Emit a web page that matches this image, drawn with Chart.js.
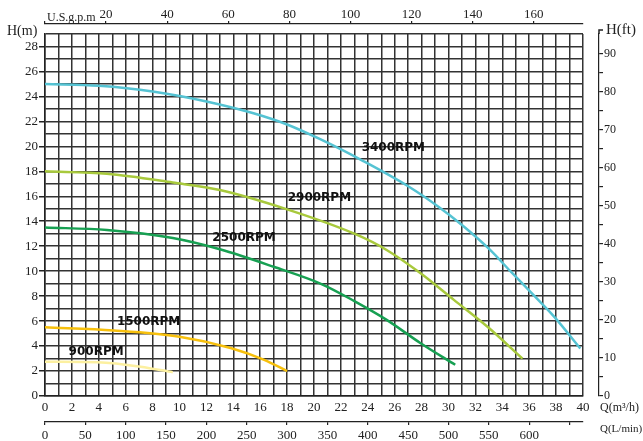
<!DOCTYPE html>
<html><head><meta charset="utf-8">
<script src="https://cdn.jsdelivr.net/npm/chart.js@4/dist/chart.umd.min.js"></script>
<style>html,body{margin:0;padding:0;background:#fff;}canvas{display:block;}</style>
</head><body>
<canvas id="c" width="643" height="441"></canvas>
<script>
// ---- data (Q in m3/h, H in m) ----
const Q_3400 = [0, 4, 8, 12, 15.5, 18, 20.5, 23.7, 27, 29.2, 31, 33, 34.6, 36.4, 37.9, 39.8];
const H_3400 = [25, 24.85, 24.4, 23.6, 22.65, 21.75, 20.55, 18.8, 16.8, 15.2, 13.7, 11.8, 10.0, 8.0, 6.3, 3.8];
const Q_2900 = [0, 4.6, 9.5, 13, 18, 23, 25.4, 27.9, 30.4, 32.9, 35.5];
const H_2900 = [18, 17.8, 17.1, 16.5, 14.95, 13.0, 11.7, 9.85, 7.7, 5.55, 3.0];
const Q_2500 = [0, 4.6, 9.5, 13, 17, 20.6, 23, 25.4, 27.9, 30.5];
const H_2500 = [13.5, 13.3, 12.65, 11.75, 10.35, 8.95, 7.6, 6.1, 4.25, 2.5];
const Q_1500 = [0, 5.1, 10, 13.8, 16.3, 18];
const H_1500 = [5.5, 5.25, 4.75, 3.85, 2.9, 2.0];
const Q_900 = [0, 3.9, 7.1, 9.5];
const H_900 = [2.75, 2.7, 2.35, 1.9];

const RPM_LABELS = ['3400RPM', '2900RPM', '2500RPM', '1500RPM', '900RPM'];
const LABEL_Q = [25.9, 20.4, 14.8, 7.7, 3.8];
const LABEL_H = [19.85, 15.85, 12.7, 5.9, 3.5];

const Q_MAX = 40, H_MAX = 29;
const GPM_PER_M3H = 4.40287, LPM_PER_M3H = 16.6667, FT_PER_M = 3.28084;

const COLORS = ['#55c3d3', '#a8c93c', '#17a052', '#f7c00c', '#fcf0a0'];

const pts = (q, h) => q.map((v, i) => ({x: v, y: h[i]}));
const series = [pts(Q_3400, H_3400), pts(Q_2900, H_2900), pts(Q_2500, H_2500), pts(Q_1500, H_1500), pts(Q_900, H_900)];

const INK = '#222';
const GRID = '#333';
const tickFont = {family: '"Liberation Serif"', size: 13};

const annot = {
  id: 'annot',
  afterDatasetsDraw(chart) {
    const {ctx, scales: {x, y}} = chart;
    ctx.save();
    ctx.font = 'bold 12px "DejaVu Sans"';
    ctx.fillStyle = '#111';
    ctx.textAlign = 'center';
    ctx.textBaseline = 'middle';
    RPM_LABELS.forEach((t, i) => ctx.fillText(t, x.getPixelForValue(LABEL_Q[i]), y.getPixelForValue(LABEL_H[i])));
    ctx.restore();
  },
  afterDraw(chart) {
    const {ctx, chartArea, scales} = chart;
    ctx.save();
    ctx.fillStyle = INK;
    ctx.textAlign = 'left';
    ctx.textBaseline = 'middle';
    ctx.font = '14px "Liberation Serif"';
    ctx.fillText('H(m)', 7, 31);
    ctx.font = '12px "Liberation Serif"';
    ctx.textBaseline = 'alphabetic';
    ctx.fillText('U.S.g.p.m', chartArea.left + 2, 21);
    const ax = scales.yf.left;
    ctx.strokeStyle = INK; ctx.lineWidth = 1.5;
    ctx.beginPath(); ctx.moveTo(ax, chartArea.top); ctx.lineTo(ax, 30); ctx.lineTo(ax + 4, 30); ctx.stroke();
    ctx.textBaseline = 'middle';
    ctx.font = '15px "Liberation Serif"';
    ctx.fillText('H(ft)', ax + 7, 30);
    ctx.font = '12px "Liberation Serif"';
    ctx.fillText('Q(m³/h)', 600, 408);
    ctx.font = '11px "Liberation Serif"';
    ctx.fillText('Q(L/min)', 600, 429);
    ctx.restore();
  }
};

new Chart(document.getElementById('c'), {
  type: 'line',
  data: {
    datasets: series.map((d, i) => ({
      label: RPM_LABELS[i], data: d, borderColor: COLORS[i], borderWidth: 2.5,
      pointRadius: 0, fill: false, cubicInterpolationMode: 'monotone'
    }))
  },
  options: {
    responsive: false, animation: false, devicePixelRatio: 1,
    layout: {padding: 0},
    plugins: {legend: {display: false}, tooltip: {enabled: false}},
    scales: {
      x: {
        type: 'linear', position: 'bottom', min: 0, max: Q_MAX, weight: 0,
        grid: {color: GRID, lineWidth: 1.5, drawTicks: false},
        border: {color: INK, width: 1.5},
        ticks: {stepSize: 1, autoSkip: false, maxRotation: 0, padding: 4, font: tickFont, color: INK,
                callback: v => (v % 2 === 0 ? String(v) : '')},
        afterFit: s => { s.height = 26; }
      },
      xl: {
        type: 'linear', position: 'bottom', min: 0, max: Q_MAX * LPM_PER_M3H, weight: 1,
        grid: {drawOnChartArea: false, tickLength: 3, color: INK, lineWidth: 1.2},
        border: {color: INK, width: 1.2},
        ticks: {stepSize: 50, includeBounds: false, autoSkip: false, maxRotation: 0, padding: 3, font: tickFont, color: INK,
                callback: v => (v <= 600 ? String(v) : '')},
        afterFit: s => { s.height = 19; }
      },
      xgap: {
        type: 'linear', axis: 'x', position: 'top', min: 0, max: 1, weight: 0,
        grid: {display: false}, ticks: {display: false}, border: {display: false},
        afterFit: s => { s.height = 10; }
      },
      xg: {
        type: 'linear', position: 'top', min: 0, max: Q_MAX * GPM_PER_M3H, weight: 1,
        grid: {drawOnChartArea: false, tickLength: 3, color: INK, lineWidth: 1.2},
        border: {color: INK, width: 1.2},
        ticks: {stepSize: 20, includeBounds: false, autoSkip: false, maxRotation: 0, padding: 0,
                font: {family: '"Liberation Serif"', size: 13, lineHeight: 1}, color: INK,
                callback: v => (v === 0 ? '' : String(v))},
        afterFit: s => { s.height = 24; }
      },
      y: {
        type: 'linear', position: 'left', min: 0, max: H_MAX,
        grid: {color: GRID, lineWidth: 1.5, tickLength: 6,
               tickColor: c => (c.tick && c.tick.value % 2 === 0 ? INK : 'rgba(0,0,0,0)')},
        border: {color: INK, width: 1.5},
        ticks: {stepSize: 1, autoSkip: false, padding: 1, font: tickFont, color: INK,
                callback: v => (v % 2 === 0 ? String(v) : '')},
        afterFit: s => { s.width = 45; }
      },
      ygap: {
        type: 'linear', axis: 'y', position: 'right', min: 0, max: 1, weight: 0,
        grid: {display: false}, ticks: {display: false}, border: {display: false},
        afterFit: s => { s.width = 16; }
      },
      yf: {
        type: 'linear', position: 'right', min: 0, max: H_MAX * FT_PER_M, weight: 1,
        grid: {drawOnChartArea: false, tickLength: 4, color: INK, lineWidth: 1.2},
        border: {color: INK, width: 1.2},
        ticks: {stepSize: 5, includeBounds: false, autoSkip: false, padding: 1,
                font: {family: '"Liberation Serif"', size: 12}, color: INK,
                callback: v => (v > 90 ? null : (v % 10 === 0 ? String(v) : ''))},
        afterFit: s => { s.width = 44; }
      }
    }
  },
  plugins: [annot]
});
</script>
</body></html>
